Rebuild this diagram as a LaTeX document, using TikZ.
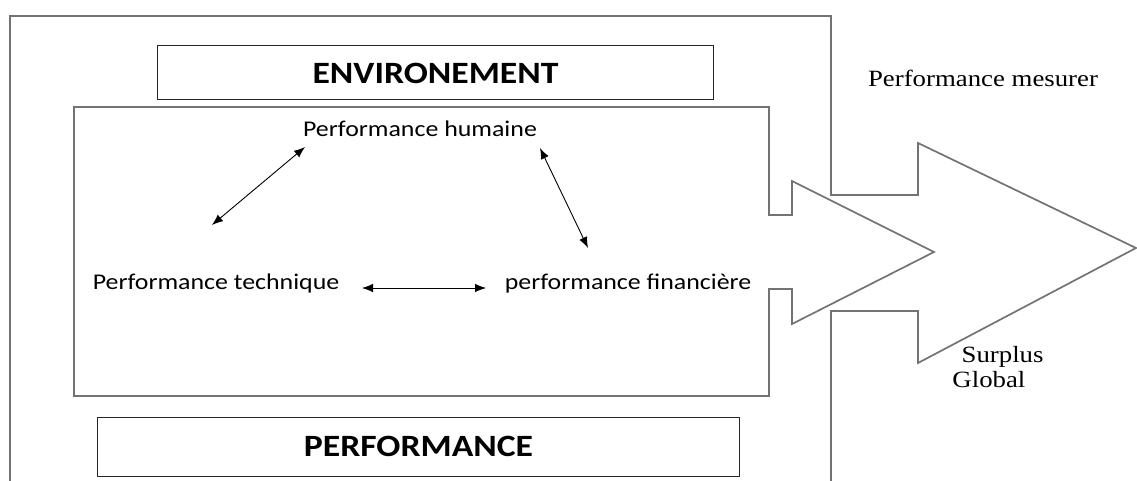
\documentclass[tikz,border=0pt]{standalone}
\usepackage{fontspec}
\setmainfont{Liberation Serif}
\newfontfamily\calfont{Carlito}
\usetikzlibrary{positioning,arrows.meta}

\begin{document}
\begin{tikzpicture}[x=1pt,y=-1pt,
	frame/.style={draw=black!55,line width=1.7pt,line join=miter},
	stretch/.style={xscale=1.15,transform shape},
	titlebox/.style={draw=black!85,line width=1pt,inner sep=0pt,stretch,font=\calfont\bfseries\fontsize{31}{33}\selectfont},
	perf/.style={inner sep=0pt,stretch,font=\calfont\fontsize{22.5}{24}\selectfont},
	note/.style={inner sep=0pt,stretch,align=left,font=\fontsize{23.3}{25}\selectfont},
	link/.style={{Latex[length=11pt,width=8.5pt]}-{Latex[length=11pt,width=8.5pt]},line width=0.9pt}]
	\useasboundingbox (0,0) rectangle (1137,481);
	% outer frame with the big arrow
	\draw[frame] (10,495) -- (10,16) -- (831,16) -- (831,195) -- (918,195) -- (918,143)
		-- (1136,248) -- (918,363) -- (918,311) -- (831,311) -- (831,495);
	% inner frame with the small arrow
	\draw[frame] (74,396) -- (74,107) -- (769,107) -- (769,215) -- (792,215) -- (792,181)
		-- (934,252) -- (792,324) -- (792,289) -- (769,289) -- (769,396) -- cycle;
	\node[titlebox,minimum width=484pt,minimum height=54pt](env) at (435.5,73) {ENVIRONEMENT};
	\node[titlebox,minimum width=559pt,minimum height=59pt](perfbox) at (418.5,446.5) {PERFORMANCE};
	\node[perf](hum) at (420,129) {Performance humaine};
	\node[perf](tech) at (216,284) {Performance technique};
	\node[perf](fin) at (628,284) {performance financière};
	\node[note](mes) at (983,78) {Performance mesurer};
	\node[note](surp) at (998,367) {\hspace{8pt}Surplus\\Global};
	\coordinate (h1) at (305,147);
	\coordinate (t1) at (212,225);
	\coordinate (h2) at (540,148);
	\coordinate (f1) at (588,248);
	\coordinate (t2) at (362,288);
	\coordinate (f2) at (486,288);
	\path[link]
	(h1) edge (t1)
	(h2) edge (f1)
	(t2) edge (f2);
\end{tikzpicture}
\end{document}
